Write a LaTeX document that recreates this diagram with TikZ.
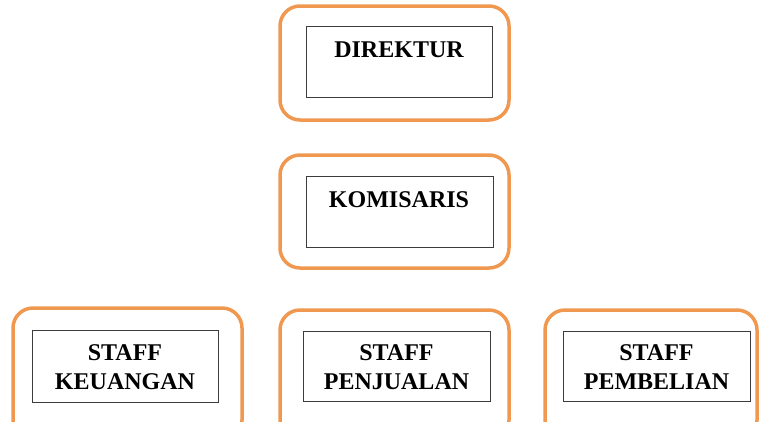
\documentclass[tikz,border=0pt]{standalone}
\usepackage{fontspec}
\setmainfont{Liberation Serif}
\definecolor{frameorange}{RGB}{240,152,80}
\definecolor{innergray}{RGB}{60,60,60}
\begin{document}
\begin{tikzpicture}[x=1pt,y=-1pt,
  outerbox/.style={draw=frameorange,line width=3.5pt,rounded corners=20pt},
  innerbox/.style={draw=innergray,line width=1pt},
  lbl/.style={font=\fontsize{24}{29}\selectfont\bfseries,align=center,inner sep=0pt}]
\useasboundingbox (0,0) rectangle (759,421);
\clip (0,0) rectangle (759,421);
% Direktur
\draw[outerbox] (280,6) rectangle (509,120);
\node[innerbox,minimum width=186pt,minimum height=71pt,anchor=north west] (dirbox) at (306,26) {};
\node[lbl] (dir) at (399,50) {DIREKTUR};
% Komisaris
\draw[outerbox] (280,155) rectangle (509,268);
\node[innerbox,minimum width=187pt,minimum height=71pt,anchor=north west] (kombox) at (306,176) {};
\node[lbl] (kom) at (399,200) {KOMISARIS};
% Bottom row
\draw[outerbox] (13,308) rectangle (242,440);
\node[innerbox,minimum width=186pt,minimum height=72pt,anchor=north west] (keubox) at (32,330) {};
\node[lbl] (keu) at (125,367.5) {STAFF\\KEUANGAN};
\draw[outerbox] (280,310) rectangle (509,440);
\node[innerbox,minimum width=187pt,minimum height=70pt,anchor=north west] (penbox) at (303,331) {};
\node[lbl] (pen) at (396.5,367.5) {STAFF\\PENJUALAN};
\draw[outerbox] (545,310) rectangle (757,440);
\node[innerbox,minimum width=187pt,minimum height=70pt,anchor=north west] (pembox) at (563,331) {};
\node[lbl] (pem) at (656.5,367.5) {STAFF\\PEMBELIAN};
\end{tikzpicture}
\end{document}
